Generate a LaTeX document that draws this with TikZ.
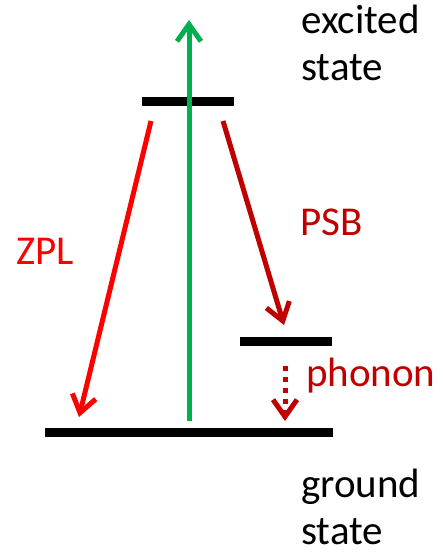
\documentclass[tikz,border=0pt]{standalone}
\usepackage{fontspec}
\setmainfont{Carlito}
\usepackage{tikz}
\usetikzlibrary{arrows.meta,positioning}
\definecolor{pumpgreen}{HTML}{00B050}
\definecolor{zplred}{HTML}{FF0000}
\definecolor{psbred}{HTML}{C00000}

\begin{document}
\begin{tikzpicture}[
    x=1pt, y=-1pt,
    level/.style={fill=black, inner sep=0pt, minimum height=9pt},
    trans/.style={line width=5pt, -{Straight Barb[length=17pt,width=24pt]}},
    label/.style={inner sep=0pt, anchor=base west, align=left,
      font=\fontsize{41}{47}\selectfont}
  ]
  \useasboundingbox (0,0) rectangle (442,559);
  % Levels
  \node[level, minimum width=92pt] (exc) at (188,102) {};
  \node[level, minimum width=92pt] (vib) at (286,341) {};
  \node[level, minimum width=288pt] (gnd) at (189,432) {};
  % Arrow ends
  \coordinate (pumpfrom) at (189,421);
  \coordinate (pumpto) at (189,20);
  \coordinate (zplfrom) at (151,121);
  \coordinate (zplto) at (79,417);
  \coordinate (psbfrom) at (223,121);
  \coordinate (psbto) at (284,325);
  \coordinate (phfrom) at (285,366);
  \coordinate (phto) at (285,421);
  \draw[trans, pumpgreen] (pumpfrom) -- (pumpto);
  \draw[trans, zplred] (zplfrom) -- (zplto);
  \draw[trans, psbred] (psbfrom) -- (psbto);
  \draw[trans, psbred, dash pattern=on 5pt off 6pt] (phfrom) -- (phto);
  % Labels
  \node[label] (exctext) at (301,81) {excited\\state};
  \node[label] (gndtext) at (301,544) {ground\\state};
  \node[label, text=zplred] (zpltext) at (16,264) {ZPL};
  \node[label, text=psbred] (psbtext) at (300,235) {PSB};
  \node[label, text=psbred] (phtext) at (306,386) {phonon};
\end{tikzpicture}
\end{document}
